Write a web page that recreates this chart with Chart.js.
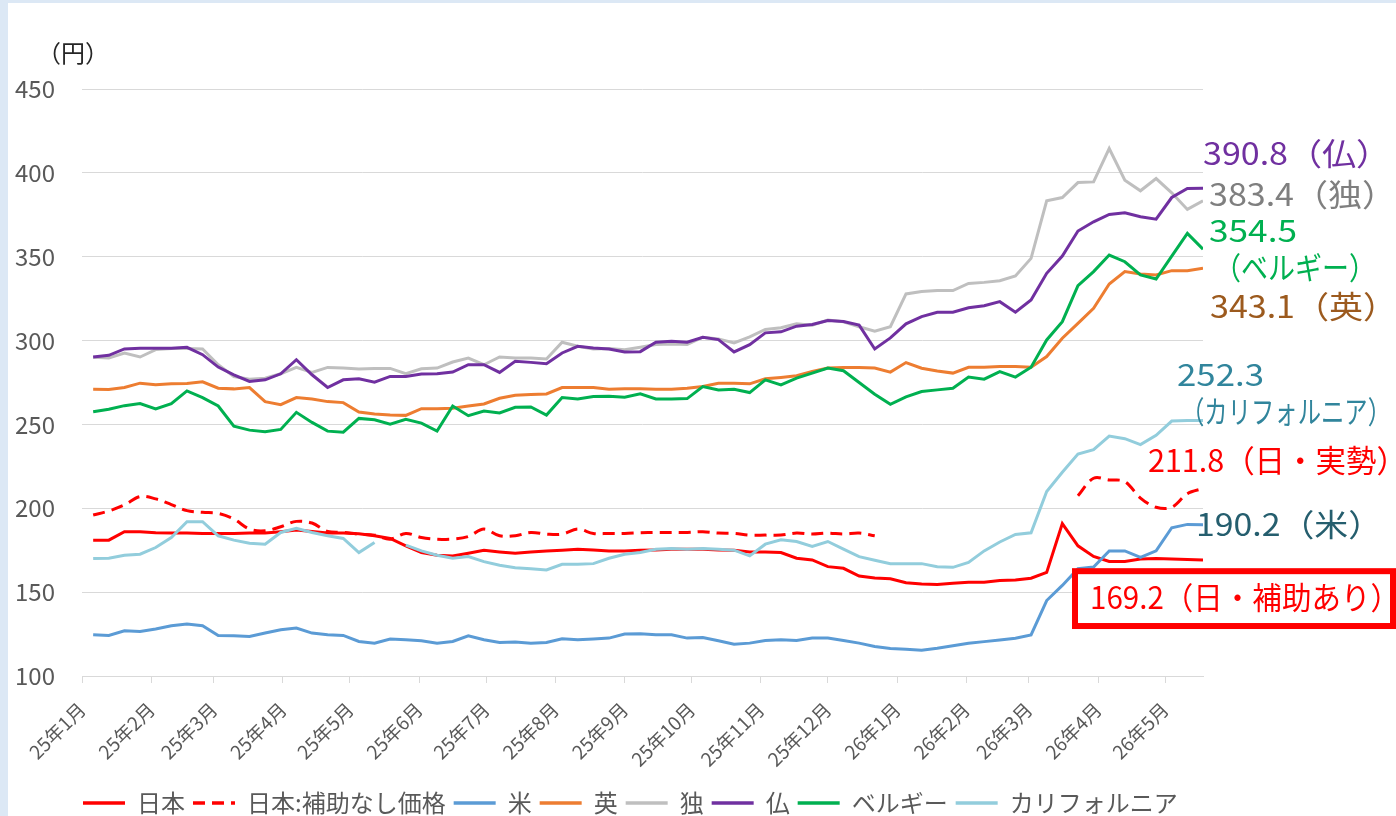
<!DOCTYPE html>
<html>
<head>
<meta charset="utf-8">
<script src="https://cdn.jsdelivr.net/npm/chart.js@4.4.1/dist/chart.umd.min.js"></script>
<style>
html, body { margin: 0; padding: 0; background: #dce8f5; }
#wrap { position: absolute; left: 8px; top: 3px; width: 1388px; height: 813px; background: #fff; overflow: hidden; }
</style>
</head>
<body>
<div id="wrap"><canvas id="mycanvas"></canvas></div>
<script>
// weekly survey, first Monday of 2025
var firstWeek = '2025-01-06';
var weekCount = 72;

var monthStarts = ['2025-01-01','2025-02-01','2025-03-01','2025-04-01','2025-05-01','2025-06-01',
	'2025-07-01','2025-08-01','2025-09-01','2025-10-01','2025-11-01','2025-12-01',
	'2026-01-01','2026-02-01','2026-03-01','2026-04-01','2026-05-01'];
var monthLabels = ['25年1月','25年2月','25年3月','25年4月','25年5月','25年6月','25年7月','25年8月',
	'25年9月','25年10月','25年11月','25年12月','26年1月','26年2月','26年3月','26年4月','26年5月'];

var seriesNames = ['日本', '日本:補助なし価格', '米', '英', '独', '仏', 'ベルギー', 'カリフォルニア'];

var japan = [181, 181, 186, 186, 185.4, 185.2, 185.2, 185, 185, 185,
	185.2, 185.2, 186, 187, 186.2, 185.2, 185.2, 184.8, 183.6, 182,
	177.6, 173.6, 172, 171.6, 173.2, 175, 174, 173.2, 174, 174.6,
	175, 175.6, 175.2, 174.6, 174.6, 175, 175.2, 175.6, 175.6, 175.6,
	175.2, 175, 174, 174, 173.6, 170.2, 169.2, 165.2, 164.2, 159.6,
	158.5, 158, 155.6, 154.9, 154.5, 155.3, 155.9, 155.9, 156.9, 157.3,
	158.3, 161.8, 190.9, 177.6, 171.3, 168.3, 168.3, 169.7, 170.1, 169.7,
	169.5, 169.2];

var japanNoSubsidy = [196, 198.4, 202, 207, 205.6, 202.2, 198.6, 197.6, 197, 193.6,
	187.6, 186.6, 189, 192.2, 191.2, 186.2, 185.6, 184.6, 184, 181.6,
	185, 182.6, 181.6, 181.6, 183.2, 187.6, 183.6, 183.6, 185.6, 184.6,
	184.6, 187.6, 185, 185, 185, 185.4, 185.6, 185.6, 185.6, 186,
	185.2, 185, 184, 184, 184, 185.2, 184.6, 185.2, 184.6, 185.2,
	183.6, null, null, null, null, null, null, null, null, null,
	null, null, null, 207.5, 217.9, 216.9, 215.9, 206.1, 200.6, 200.6,
	208.7, 211.8];

var us = [124.6, 124.2, 127, 126.6, 128, 130, 131, 130, 124.2, 124,
	123.6, 125.6, 127.6, 128.6, 125.6, 124.6, 124.2, 120.6, 119.6, 122,
	121.6, 121, 119.6, 120.6, 124, 121.6, 120, 120.2, 119.6, 120,
	122.2, 121.6, 122, 122.6, 125, 125.2, 124.6, 124.6, 122.6, 123,
	121, 119, 119.6, 121.2, 121.6, 121.2, 122.6, 122.6, 121.2, 119.6,
	117.6, 116.4, 116, 115.4, 116.5, 118, 119.5, 120.5, 121.5, 122.5,
	124.5, 145, 154, 164, 165, 174.6, 174.6, 170.7, 174.6, 188.4,
	190.4, 190.2];

var uk = [271, 270.8, 272, 274.6, 273.6, 274.2, 274.4, 275.4, 271.6, 271.2,
	272, 263.6, 261.8, 266, 265.2, 263.6, 263, 257.4, 256.2, 255.6,
	255.4, 259.4, 259.4, 259.6, 261, 262.2, 265.6, 267.4, 267.8, 268.2,
	272, 272, 272, 271, 271.2, 271.2, 271, 271, 271.6, 272.6,
	274.6, 274.6, 274.2, 277.2, 278, 279, 281.6, 283.6, 284, 284,
	283.6, 281.2, 286.9, 283.5, 281.9, 280.6, 284.1, 284.1, 284.5, 284.5,
	284.1, 290.5, 301.4, 310.3, 319.2, 333.7, 341.1, 339.7, 339.1, 341.7,
	341.7, 343.1];

var germany = [290, 289.6, 292.6, 290.2, 294.6, 295.2, 295.2, 295, 285.6, 278.6,
	277, 277.6, 280.2, 284, 281, 284, 283.6, 283, 283.4, 283.4,
	280.2, 283.2, 283.6, 287.2, 289.6, 285.6, 290.2, 289.6, 289.6, 289,
	299, 296.6, 295, 295.2, 294.6, 296, 297.6, 298, 297.6, 302,
	301, 298.6, 302.2, 306.6, 307.6, 310, 309.2, 312.2, 311.2, 308.2,
	305.6, 308.3, 327.8, 329.2, 329.8, 329.8, 334.1, 334.7, 335.7, 338.5,
	349, 383.3, 385.3, 394.2, 394.6, 414.5, 395.6, 389.3, 396.6, 388.1,
	378.2, 383.4];

var france = [290.2, 291.2, 295, 295.4, 295.4, 295.4, 296, 291.6, 284.2, 279.6,
	275.6, 276.6, 280.2, 288.6, 279.6, 272, 276.6, 277.2, 275.2, 278.6,
	278.6, 280, 280.2, 281.2, 285.6, 285.6, 281, 287.6, 287, 286.2,
	292.6, 296.6, 295.6, 295, 293.2, 293.4, 299, 299.6, 299, 302,
	300.6, 293.2, 297.6, 304.6, 305.2, 308.6, 309.6, 312, 311.4, 309.2,
	295, 301.6, 310, 314.3, 316.9, 316.9, 319.6, 320.8, 323.2, 316.9,
	324.2, 340.1, 350.4, 365.3, 370.8, 375.2, 376.2, 373.8, 372.4, 385.3,
	390.7, 390.8];

var belgium = [257.6, 259, 261.2, 262.4, 259.2, 262.4, 270, 266, 261, 249,
	246.6, 245.6, 247, 257.2, 251.2, 246, 245.4, 253.6, 252.8, 250.2,
	253, 250.8, 246, 261, 255.2, 258, 256.8, 260.2, 260.4, 255.6,
	266, 265.2, 266.6, 266.8, 266.2, 268.3, 265.2, 265.2, 265.4, 272.6,
	270.6, 271, 269, 276.6, 273.6, 277.6, 280.6, 283.6, 282, 275,
	268, 262, 266.4, 269.6, 270.6, 271.6, 278.2, 277, 281.5, 278.2,
	284.1, 300.4, 311.3, 332.7, 341.1, 351, 347, 339.1, 336.7, 350.4,
	363.9, 354.5];

var california = [170, 170.2, 172, 172.6, 176.6, 182.6, 192, 192, 183.6, 181,
	179.2, 178.6, 185.6, 188, 185.6, 183.6, 182, 173.6, 179.6, null,
	178, 174.6, 172, 170.2, 171.2, 168.2, 166, 164.6, 164, 163.2,
	166.6, 166.6, 167, 170.2, 172.6, 173.6, 175.6, 176, 175.6, 176,
	175.6, 175, 171.6, 178.6, 181.2, 180.2, 177.2, 180.2, 175.6, 171.2,
	169, 167, 167, 167, 165.2, 164.8, 167.7, 174.6, 179.9, 184.4,
	185.4, 210, 221.5, 232.3, 235, 243.1, 241.5, 238, 243.5, 252,
	252.3, 252.3];

var yTicks = [100, 150, 200, 250, 300, 350, 400, 450];

// end-of-line call-outs: text, colour, y in 円, x offset from plot right, text width
var notes = [
	{ text: '390.8（仏）', color: '#7030a0', y: 412, dx: 0, w: 187 },
	{ text: '383.4（独）', color: '#7f7f7f', y: 387, dx: 6, w: 187 },
	{ text: '354.5', color: '#00b050', y: 366, dx: 6, w: 88 },
	{ text: '（ベルギー）', color: '#00b050', y: 343.5, dx: 11, w: 162 },
	{ text: '343.1（英）', color: '#9c5a1e', y: 320.2, dx: 7, w: 187 },
	{ text: '252.3', color: '#31859c', y: 279.8, dx: -26, w: 87 },
	{ text: '（カリフォルニア）', color: '#31859c', y: 257.7, dx: -22, w: 210 },
	{ text: '211.8（日・実勢）', color: '#ff0000', y: 228.6, dx: -55, w: 259 },
	{ text: '190.2（米）', color: '#255e6e', y: 190.5, dx: -7, w: 186 },
	{ text: '169.2（日・補助あり）', color: '#ff0000', y: 147, dx: -113, w: 310 }
];

var axisStart = Date.parse('2025-01-01');
function dayOf(s) { return (Date.parse(s) - axisStart) / 86400000; }

var weekDays = [];
for (var i = 0; i < weekCount; i++) {
	weekDays.push(dayOf(firstWeek) + i * 7);
}

function points(values) {
	return values.map(function(v, i) { return { x: weekDays[i], y: v }; });
}

var FONT = '"Noto Sans CJK JP", "Noto Sans", sans-serif';

var allSeries = [japan, japanNoSubsidy, us, uk, germany, france, belgium, california];
var colors = ['#ff0000', '#ff0000', '#5b9bd5', '#ed7d31', '#bfbfbf', '#7030a0', '#00b050', '#92cddc'];

var datasets = allSeries.map(function(s, i) {
	return {
		label: seriesNames[i],
		data: points(s),
		borderColor: colors[i],
		backgroundColor: colors[i],
		borderWidth: 3,
		borderDash: i === 1 ? [12, 7] : [],
		tension: i === 1 ? 0.35 : 0,
		pointRadius: 0,
		fill: false,
		order: 20 - i
	};
});

var notesPlugin = {
	id: 'notes',
	afterLayout: function(chart) {
		// legend starts flush with the plot's left edge
		chart.legend.left -= 7;
		chart.legend.right -= 7;
	},
	afterDraw: function(chart) {
		var ctx = chart.ctx;
		var area = chart.chartArea;
		var yScale = chart.scales.y;
		ctx.save();
		// unit label
		ctx.fillStyle = '#262626';
		ctx.font = '24px ' + FONT;
		ctx.textAlign = 'left';
		ctx.textBaseline = 'middle';
		ctx.fillText('（円）', area.left - 45, area.top - 36);

		// box round the subsidised price
		var boxTop = yScale.getPixelForValue(162.5);
		var boxBottom = yScale.getPixelForValue(129.8);
		ctx.fillStyle = '#ffffff';
		ctx.fillRect(area.right - 128, boxTop, 318, boxBottom - boxTop);
		ctx.strokeStyle = '#ff0000';
		ctx.lineWidth = 6;
		ctx.strokeRect(area.right - 128, boxTop, 318, boxBottom - boxTop);

		ctx.font = '31px ' + FONT;
		notes.forEach(function(n) {
			var m = ctx.measureText(n.text).width;
			ctx.save();
			ctx.translate(area.right + n.dx, yScale.getPixelForValue(n.y));
			ctx.scale(n.w / m, 1);
			ctx.fillStyle = n.color;
			ctx.fillText(n.text, 0, 0);
			ctx.restore();
		});
		ctx.restore();
	}
};

var ctx = document.getElementById('mycanvas');

var lineGraph = new Chart(ctx, {
	type: 'line',
	data: { datasets: datasets },
	options: {
		responsive: true,
		maintainAspectRatio: false,
		animation: false,
		layout: { padding: { left: 0, top: 86, right: 193, bottom: -9 } },
		plugins: {
			tooltip: { enabled: false },
			legend: {
				position: 'bottom',
				fullSize: false,
				align: 'start',
				labels: {
					usePointStyle: true,
					pointStyle: 'line',
					pointStyleWidth: 42,
					padding: 8,
					color: '#595959',
					font: { family: FONT, size: 24 },
					sort: function(a, b) { return a.datasetIndex - b.datasetIndex; },
					generateLabels: function(chart) {
						var items = Chart.defaults.plugins.legend.labels.generateLabels(chart);
						items.forEach(function(it) {
							var ds = chart.data.datasets[it.datasetIndex];
							it.lineDash = ds.borderDash;
							it.lineWidth = 3.5;
							it.strokeStyle = ds.borderColor;
						});
						return items;
					}
				}
			}
		},
		scales: {
			x: {
				type: 'linear',
				min: 0,
				max: weekDays[weekDays.length - 1],
				afterBuildTicks: function(scale) {
					scale.ticks = monthStarts.map(function(d) { return { value: dayOf(d) }; });
				},
				afterFit: function(scale) { scale.height = 107; },
				ticks: {
					autoSkip: false,
					minRotation: 45,
					maxRotation: 45,
					padding: 15,
					color: '#595959',
					font: { family: FONT, size: 19 },
					callback: function(value, index) { return monthLabels[index]; }
				},
				grid: {
					drawOnChartArea: false,
					drawTicks: true,
					tickLength: 7,
					color: '#d9d9d9'
				},
				border: { display: true, color: '#d9d9d9' }
			},
			y: {
				min: 100,
				max: 450,
				afterBuildTicks: function(scale) {
					scale.ticks = yTicks.map(function(v) { return { value: v }; });
				},
				afterFit: function(scale) { scale.width = 74; },
				ticks: {
					padding: 27,
					color: '#595959',
					font: { family: FONT, size: 24 }
				},
				grid: { color: '#d9d9d9', drawTicks: false },
				border: { display: false }
			}
		}
	},
	plugins: [notesPlugin]
});
</script>
</body>
</html>
